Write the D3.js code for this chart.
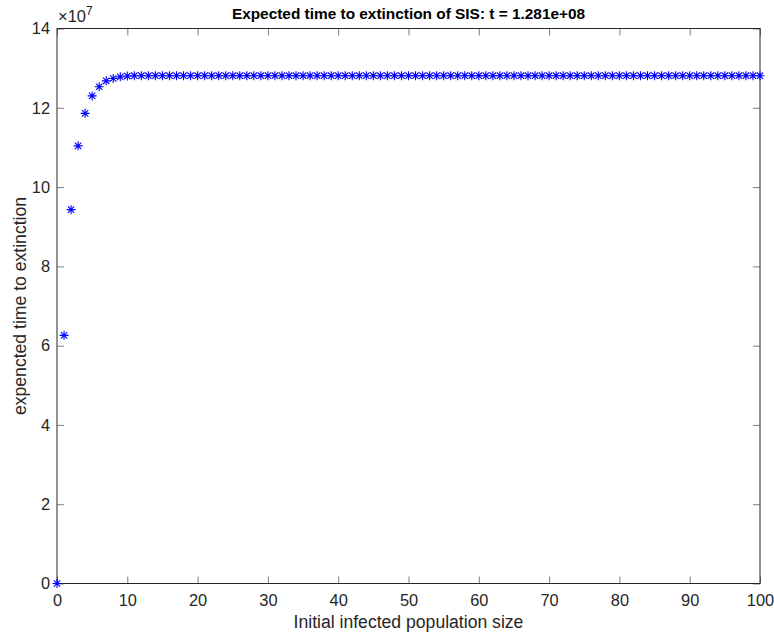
<!DOCTYPE html>
<html>
<head>
<meta charset="utf-8">
<script src="https://cdn.jsdelivr.net/npm/d3@7"></script>
<style>
  html, body { margin: 0; padding: 0; background: #fff; }
  svg { display: block; font-family: "Liberation Sans", Arial, Helvetica, sans-serif; }
</style>
</head>
<body>
<svg id="chart" width="774" height="634"></svg>
<script>
// Initial infected population size (0..100)
const populationSizes = d3.range(0, 101);

// Expected time to extinction for each initial size, in units of 1e7
const earlyTimes = [0, 6.26, 9.43, 11.04, 11.86, 12.30, 12.53, 12.68, 12.74, 12.78, 12.80];
const plateauTime = 12.81;
const expectedTimes = populationSizes.map((n, i) => i < earlyTimes.length ? earlyTimes[i] : plateauTime);

const xTicks = [0, 10, 20, 30, 40, 50, 60, 70, 80, 90, 100];
const yTicks = [0, 2, 4, 6, 8, 10, 12, 14];

const titleText = "Expected time to extinction of SIS: t = 1.281e+08";
const xLabelText = "Initial infected population size";
const yLabelText = "expencted time to extinction";

const svg = d3.select("#chart");
const margin = { left: 57, right: 14, top: 28.5, bottom: 50.5 };
const W = 774, H = 634;
const x0 = margin.left, x1 = W - margin.right;
const y0 = H - margin.bottom, y1 = margin.top;

const x = d3.scaleLinear().domain([0, 100]).range([x0, x1]);
const y = d3.scaleLinear().domain([0, 14]).range([y0, y1]);

const axisColor = "#262626";
const tickLen = 7;
const tickFont = 16.4;

// bottom axis (ticks pointing inward)
const gx = svg.append("g").attr("transform", `translate(0,${y0})`)
  .call(d3.axisBottom(x).tickValues(xTicks).tickSizeInner(-tickLen).tickSizeOuter(0).tickPadding(11));
// top axis, ticks only
const gxt = svg.append("g").attr("transform", `translate(0,${y1})`)
  .call(d3.axisTop(x).tickValues(xTicks).tickSizeInner(-tickLen).tickSizeOuter(0).tickFormat(""));
// left axis
const gy = svg.append("g").attr("transform", `translate(${x0},0)`)
  .call(d3.axisLeft(y).tickValues(yTicks).tickSizeInner(-tickLen).tickSizeOuter(0).tickPadding(7));
// right axis, ticks only
const gyr = svg.append("g").attr("transform", `translate(${x1},0)`)
  .call(d3.axisRight(y).tickValues(yTicks).tickSizeInner(-tickLen).tickSizeOuter(0).tickFormat(""));

[gx, gxt, gy, gyr].forEach(g => {
  g.selectAll(".domain").remove();
  g.selectAll(".tick line").attr("stroke", axisColor).attr("stroke-width", 0.6);
  g.selectAll(".tick text").attr("fill", axisColor).attr("font-size", tickFont)
    .attr("font-family", "'Liberation Sans', Arial, sans-serif");
});
gx.selectAll(".tick text").attr("dy", "0.72em");

// frame
svg.append("rect")
  .attr("x", x0).attr("y", y1).attr("width", x1 - x0).attr("height", y0 - y1)
  .attr("fill", "none").attr("stroke", axisColor).attr("stroke-width", 1);

// asterisk markers
const r = 4.5;
const d = r * Math.SQRT1_2;
const starPath = `M${-r},0L${r},0M0,${-r}L0,${r}M${-d},${-d}L${d},${d}M${-d},${d}L${d},${-d}`;
svg.append("g").selectAll("path")
  .data(populationSizes)
  .join("path")
  .attr("transform", (n, i) => `translate(${x(n)},${y(expectedTimes[i])})`)
  .attr("d", starPath)
  .attr("stroke", "#0000ff")
  .attr("stroke-width", 1.1)
  .attr("fill", "none");

// exponent label
const exp = svg.append("text")
  .attr("x", x0 + 1).attr("y", y1 - 7)
  .attr("font-size", 16.5).attr("fill", axisColor);
exp.append("tspan").text("\u00d710");
exp.append("tspan").attr("dy", -7).attr("font-size", 12).text("7");

// title
svg.append("text")
  .attr("x", (x0 + x1) / 2).attr("y", 18.5)
  .attr("text-anchor", "middle")
  .attr("font-size", 15.4).attr("font-weight", "bold").attr("fill", "#000")
  .text(titleText);

// x label
svg.append("text")
  .attr("x", (x0 + x1) / 2).attr("y", 628)
  .attr("text-anchor", "middle")
  .attr("font-size", 17.6).attr("fill", axisColor)
  .text(xLabelText);

// y label
svg.append("text")
  .attr("transform", `translate(26,${(y0 + y1) / 2}) rotate(-90)`)
  .attr("text-anchor", "middle")
  .attr("font-size", 17.6).attr("fill", axisColor)
  .text(yLabelText);
</script>
</body>
</html>
